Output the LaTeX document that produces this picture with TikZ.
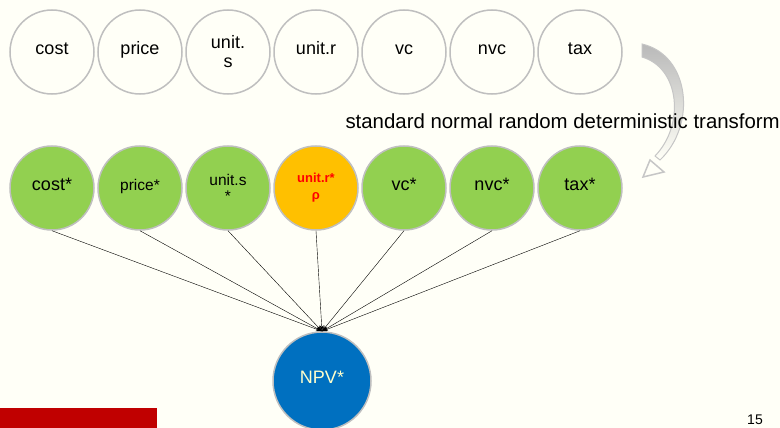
\documentclass[tikz,border=0pt]{standalone}
\usepackage{fontspec}
\setmainfont{Liberation Sans}
\usetikzlibrary{positioning,arrows.meta}
\definecolor{paper}{HTML}{FFFFF7}
\definecolor{ringgray}{HTML}{BFBFBF}
\definecolor{leaf}{HTML}{92D050}
\definecolor{amber}{HTML}{FFC000}
\definecolor{ocean}{HTML}{0070C0}
\definecolor{slidered}{HTML}{C00000}
\definecolor{paleyellow}{HTML}{FFFFCC}
\tikzset{
  var/.style={circle, draw=ringgray, line width=1.5pt, minimum size=84pt, inner sep=0pt,
    align=center, font=\fontsize{18}{19}\selectfont},
  one/.style={var, text height=0.72em, text depth=0.2em},
  std/.style={one, fill=leaf},
}

\begin{document}
\begin{tikzpicture}[x=1pt, y=-1pt, node distance=88pt]
\fill[paper] (0,0) rectangle (780,428);
\useasboundingbox (0,0) rectangle (780,428);

    \node[one] (cost) at (52,52) {cost};
    \node[one, right of=cost] (price) {price};
    \node[var, right of=price] (units) {unit.\\s};
    \node[one, right of=units] (unitr) {unit.r};
    \node[one, right of=unitr] (vc) {vc};
    \node[one, right of=vc] (nvc) {nvc};
    \node[one, right of=nvc] (tax) {tax};

    \node[std] (cost2) at (52,188) {cost*};
    \node[std, right of=cost2, font=\fontsize{15.5}{16}\selectfont] (price2) {price*};
    \node[var, fill=leaf, right of=price2, font=\fontsize{15.5}{16}\selectfont] (units2) {unit.s\\*};
    \node[var, fill=amber, right of=units2, text=red,
      font=\fontsize{13}{17}\selectfont\bfseries] (unitr2) {unit.r*\\ρ};
    \node[std, right of=unitr2] (vc2) {vc*};
    \node[std, right of=vc2] (nvc2) {nvc*};
    \node[std, right of=nvc2] (tax2) {tax*};

    \node[one, fill=ocean, minimum size=98pt, text=paleyellow] (npv) at (322,381) {NPV*};

    % curved block arrow
    \shade[top color=gray!55, bottom color=paper, draw=gray!45, line width=1pt]
      (642,44) .. controls (690,55) and (697,125) .. (660,160)
      -- (655,156) .. controls (685,125) and (680,68) .. (642,57) -- cycle;
    \draw[gray!45, fill=paper, line width=1.5pt, line join=miter]
      (650,160) -- (643,177) -- (664,172) -- cycle;

    \node[anchor=west, font=\fontsize{20.4}{22}\selectfont] (label) at (342,121)
      {standard normal random deterministic transform};

    \path[-{Stealth[length=6pt,width=4pt]}]
    (cost2.south) edge (npv.north)
    (price2.south) edge (npv.north)
    (units2.south) edge (npv.north)
    (unitr2.south) edge (npv.north)
    (vc2.south) edge (npv.north)
    (nvc2.south) edge (npv.north)
    (tax2.south) edge (npv.north)
;

\fill[slidered] (0,408) rectangle (157,428);
\node[font=\fontsize{14}{14}\selectfont] (page) at (755,420) {15};

\end{tikzpicture}
\end{document}
